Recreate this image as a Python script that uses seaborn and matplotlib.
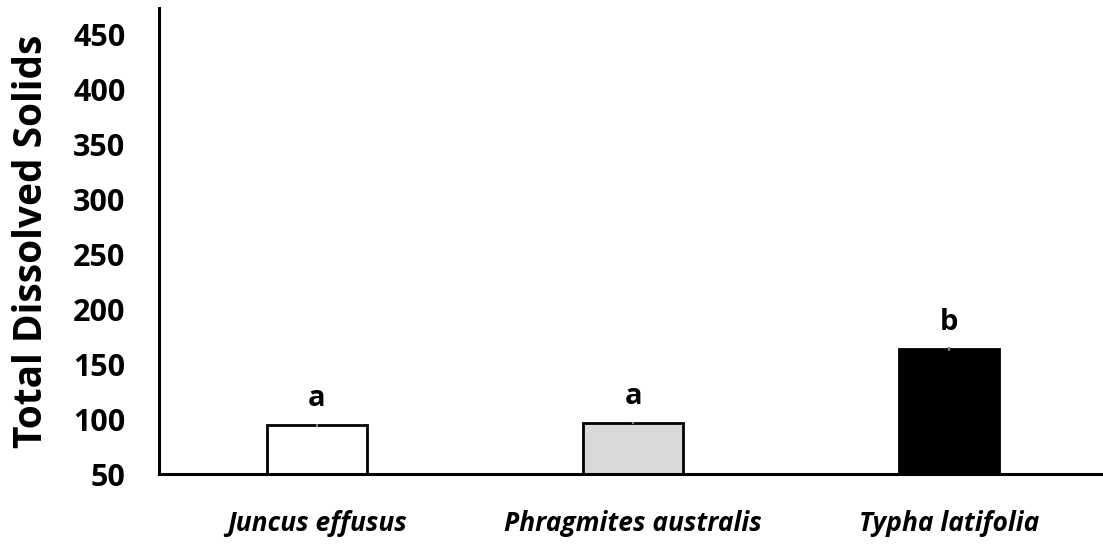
import matplotlib
matplotlib.use("Agg")
import matplotlib.pyplot as plt
import seaborn as sns
import pandas as pd

species = ["Juncus effusus", "Phragmites australis", "Typha latifolia"]
tds_mean = [94.5, 96.5, 164.0]
tds_err = [1.0, 1.0, 1.5]
group_letters = ["a", "a", "b"]
bar_colors = ["#ffffff", "#d9d9d9", "#000000"]
y_ticks = [50, 100, 150, 200, 250, 300, 350, 400, 450]

sns.set_theme(style="white")
plt.rcParams["font.family"] = ["Open Sans", "DejaVu Sans"]
plt.rcParams.update({"text.color": "black", "axes.labelcolor": "black",
                     "xtick.color": "black", "ytick.color": "black"})

df = pd.DataFrame({"species": species, "tds": tds_mean})

fig = plt.figure(figsize=(11.03, 5.44), dpi=100)
ax = fig.add_axes([0.144, 0.128, 0.86, 0.857])

sns.barplot(data=df, x="species", y="tds", hue="species", palette=bar_colors,
            legend=False, width=0.316, edgecolor="black", linewidth=2,
            errorbar=None, ax=ax)
ax.errorbar(range(len(species)), tds_mean, yerr=tds_err, fmt="none",
            ecolor="#808080", elinewidth=1.5, capsize=0)

for i, (v, lab) in enumerate(zip(tds_mean, group_letters)):
    ax.annotate(lab, (i, v), xytext=(0, 9), textcoords="offset points",
                ha="center", va="bottom", fontsize=21, fontweight="bold")

ax.set_xlim(-0.5, 2.5)
ax.set_ylim(50, 474)
ax.set_yticks(y_ticks)
ax.set_yticklabels([str(t) for t in y_ticks], fontsize=22, fontweight="bold")
ax.set_xticks(range(len(species)))
ax.set_xticklabels(species, fontsize=19, fontweight="bold", style="italic")
ax.tick_params(axis="y", length=0, pad=24)
ax.tick_params(axis="x", length=0, pad=26)
ax.set_xlabel("")
ax.set_ylabel("Total Dissolved Solids", fontsize=28, fontweight="bold", labelpad=16)

sns.despine(ax=ax, top=True, right=True)
for side in ("left", "bottom"):
    ax.spines[side].set_color("black")
    ax.spines[side].set_linewidth(2.2)

fig.savefig("out.png", dpi=100)
